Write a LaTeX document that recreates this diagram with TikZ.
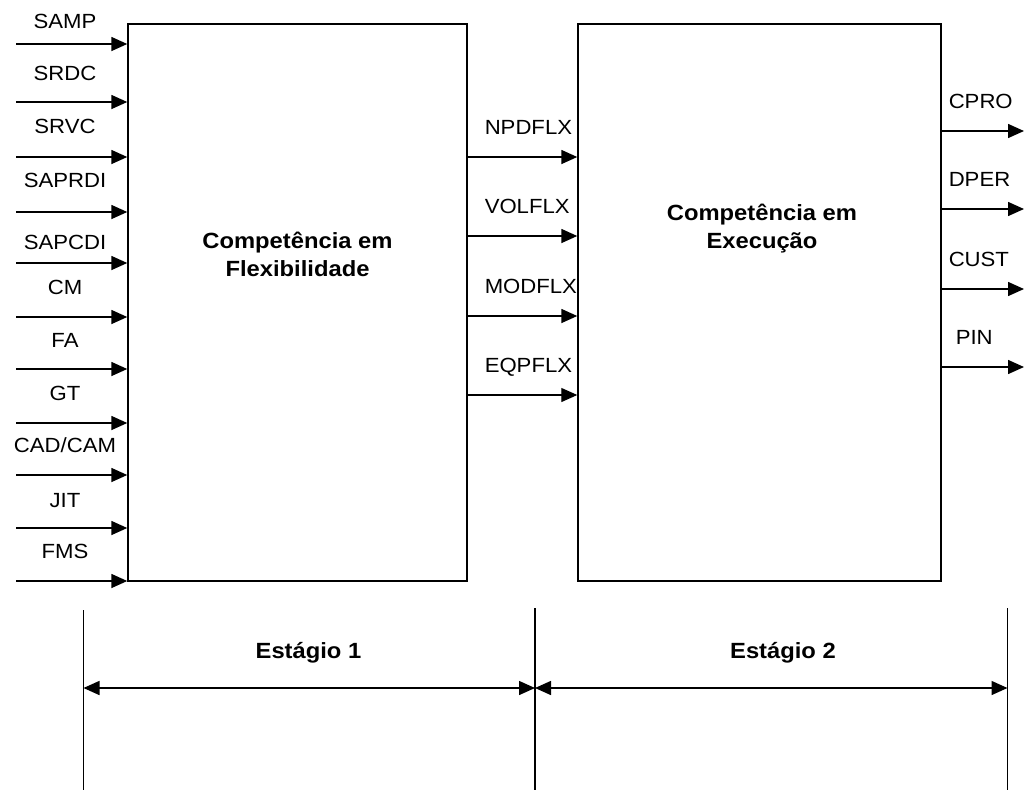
\documentclass[tikz,border=0pt]{standalone}
\usepackage{fontspec}
\setmainfont{Liberation Sans}[FakeStretch=1.08]
\usetikzlibrary{arrows.meta}
\begin{document}
\begin{tikzpicture}[x=1pt,y=-1pt,line width=1.5pt,
  tip/.style={-{Triangle[length=16pt,width=14pt]}},
  span/.style={{Triangle[length=16pt,width=14pt]}-{Triangle[length=16pt,width=14pt]}},
  lbl/.style={inner sep=0pt,font=\fontsize{20.5}{24}\selectfont},
  ttl/.style={inner sep=0pt,align=center,font=\fontsize{22}{28}\selectfont\bfseries}]
  \useasboundingbox (0,0) rectangle (1026,790);
  \node[draw,line width=1.4pt,minimum width=339pt,minimum height=557pt,inner sep=0pt] (flex) at (297.5,302.5) {};
  \node[draw,line width=1.4pt,minimum width=363pt,minimum height=557pt,inner sep=0pt] (exec) at (759.5,302.5) {};
  \node[ttl,anchor=base] (flexttl) at (297.5,276) {Competência em\\Flexibilidade};
  \node[ttl,anchor=base] (execttl) at (762,248) {Competência em\\Execução};
  \foreach \y/\b/\lab [count=\i] in {44/28/SAMP,102/80/SRDC,157/133/SRVC,212/187/SAPRDI,263/249/SAPCDI,317/294/CM,369/347/FA,423/400/GT,475/452/{CAD/CAM},528/507/JIT,581/558/FMS} {
    \coordinate (in\i) at (16,\y);
    \draw[tip] (in\i) -- (in\i -| flex.west);
    \node[lbl,anchor=base] (inlbl\i) at (65,\b) {\lab};
  }
  \foreach \y/\lab/\w [count=\i] in {157/NPDFLX/1.5,236/VOLFLX/1.5,316/MODFLX/1.5,395/EQPFLX/1.1} {
    \coordinate (mid\i) at (520,\y);
    \draw[tip,line width=\w pt] (flex.east |- mid\i) -- (exec.west |- mid\i);
    \node[lbl,anchor=base west] (midlbl\i) at (484,{\y-23}) {\lab};
  }
  \foreach \y/\lab/\x [count=\i] in {131/CPRO/948,209/DPER/948,289/CUST/948,367/PIN/955} {
    \coordinate (out\i) at (1024,\y);
    \draw[tip] (exec.east |- out\i) -- (out\i);
    \node[lbl,anchor=base west] (outlbl\i) at (\x,{\y-23}) {\lab};
  }
  \coordinate (s0) at (83.5,610);
  \coordinate (s1) at (535,608);
  \coordinate (s2) at (1007.5,608);
  \coordinate (floor) at (0,790);
  \coordinate (dim) at (0,688);
  \foreach \s in {s0,s1,s2}
    \draw (\s) -- (\s |- floor);
  \draw[span] (s0 |- dim) -- (s1 |- dim);
  \draw[span] (s1 |- dim) -- (s2 |- dim);
  \node[ttl,anchor=base] (stage1) at (308.5,658) {Estágio 1};
  \node[ttl,anchor=base] (stage2) at (783,658) {Estágio 2};
\end{tikzpicture}
\end{document}
